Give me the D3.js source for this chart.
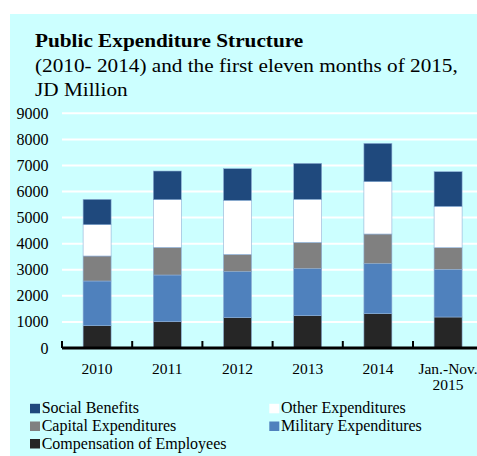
<!DOCTYPE html>
<html>
<head>
<meta charset="utf-8">
<script src="https://cdn.jsdelivr.net/npm/d3@7"></script>
<style>
  html, body { margin: 0; padding: 0; background: #ffffff; }
  svg { display: block; }
  text { font-family: "Liberation Serif", "Times New Roman", serif; fill: #000; }
</style>
</head>
<body>
<svg id="chart" width="477" height="456"></svg>
<script>
// Public expenditure by category, JD million
const categories = ["2010", "2011", "2012", "2013", "2014", "Jan.-Nov.\n2015"];
const compensation = [855, 1008, 1163, 1240, 1316, 1189];
const military     = [1714, 1791, 1764, 1802, 1917, 1827];
const capital      = [959, 1061, 664, 1010, 1138, 831];
const other        = [1200, 1827, 2071, 1649, 2006, 1585];
const social       = [973, 1100, 1214, 1380, 1470, 1329];
const yTicks = [0, 1000, 2000, 3000, 4000, 5000, 6000, 7000, 8000, 9000];

// stacking order bottom to top
const seriesDefs = [
  { key: "comp",    name: "Compensation of Employees", values: compensation, color: "#262626" },
  { key: "mil",     name: "Military Expenditures",     values: military,     color: "#4f81bd" },
  { key: "cap",     name: "Capital Expenditures",      values: capital,      color: "#808080" },
  { key: "other",   name: "Other Expenditures",        values: other,        color: "#ffffff" },
  { key: "social",  name: "Social Benefits",           values: social,       color: "#1f497d" }
];

const rows = categories.map((c, i) => {
  const r = { cat: c };
  seriesDefs.forEach(s => { r[s.key] = s.values[i]; });
  return r;
});

const svg = d3.select("#chart");

// panel background
svg.append("rect")
  .attr("x", 10).attr("y", 14).attr("width", 467).attr("height", 442)
  .attr("fill", "#ccffff");

// titles (slightly widened lettering)
const titleG = svg.append("g").attr("transform", "translate(35,0) scale(1.09,1)");
titleG.append("text").attr("x", 0).attr("y", 47.3)
  .style("font-size", "19.5px").style("font-weight", "bold")
  .text("Public Expenditure Structure");
titleG.append("text").attr("x", 0).attr("y", 72)
  .style("font-size", "19.5px")
  .text("(2010- 2014) and the first eleven months of 2015,");
titleG.append("text").attr("x", 0).attr("y", 96)
  .style("font-size", "19.5px")
  .text("JD Million");

const plot = { left: 62, right: 483.2, top: 113.3, bottom: 348 };

const xOuter = d3.scaleBand().domain(categories).range([plot.left, plot.right]);

const y = d3.scaleLinear().domain([0, 9000]).range([plot.bottom, plot.top]);

// gridlines
svg.append("g")
  .selectAll("line")
  .data(yTicks.filter(t => t > 0))
  .join("line")
  .attr("x1", plot.left).attr("x2", plot.right)
  .attr("y1", d => y(d)).attr("y2", d => y(d))
  .attr("stroke", "#ffffff").attr("stroke-width", 2);

// y tick labels
svg.append("g")
  .selectAll("text")
  .data(yTicks)
  .join("text")
  .attr("x", 48.5).attr("y", d => y(d) + 5.5)
  .attr("text-anchor", "end")
  .style("font-size", "16px")
  .text(d => d);

// stacked bars
const stack = d3.stack().keys(seriesDefs.map(s => s.key));
const layers = stack(rows);

const bw = 28;
svg.append("g")
  .selectAll("g")
  .data(layers)
  .join("g")
  .attr("fill", (d, i) => seriesDefs[i].color)
  .selectAll("rect")
  .data(d => d)
  .join("rect")
  .attr("x", d => xOuter(d.data.cat) + xOuter.bandwidth() / 2 - bw / 2)
  .attr("width", bw)
  .attr("y", d => y(d[1]))
  .attr("height", d => y(d[0]) - y(d[1]))
  .attr("stroke", "#8fb0d6")
  .attr("stroke-width", 0.6);

// category axis
svg.append("line")
  .attr("x1", plot.left).attr("x2", plot.right)
  .attr("y1", plot.bottom).attr("y2", plot.bottom)
  .attr("stroke", "#000").attr("stroke-width", 3);

svg.append("g")
  .selectAll("line")
  .data(categories)
  .join("line")
  .attr("x1", d => xOuter(d)).attr("x2", d => xOuter(d))
  .attr("y1", plot.bottom - 7).attr("y2", plot.bottom)
  .attr("stroke", "#000").attr("stroke-width", 2);

svg.append("g")
  .selectAll("text")
  .data(categories)
  .join("text")
  .attr("text-anchor", "middle")
  .style("font-size", "15.5px")
  .each(function(d) {
    const cx = xOuter(d) + xOuter.bandwidth() / 2;
    const lines = d.split("\n");
    d3.select(this).selectAll("tspan")
      .data(lines)
      .join("tspan")
      .attr("x", cx)
      .attr("y", (l, i) => 373.5 + i * 16.5)
      .text(l => l);
  });

// legend
const legendItems = [
  { s: seriesDefs[4], x: 30,    y: 413.3 },
  { s: seriesDefs[3], x: 269.3, y: 413.3 },
  { s: seriesDefs[2], x: 30,    y: 431 },
  { s: seriesDefs[1], x: 269.3, y: 431 },
  { s: seriesDefs[0], x: 30,    y: 448.5 }
];
const lg = svg.append("g")
  .selectAll("g")
  .data(legendItems)
  .join("g")
  .attr("transform", d => `translate(${d.x},${d.y})`);
lg.append("rect")
  .attr("x", 0).attr("y", -9.5).attr("width", 10).attr("height", 9.5)
  .attr("fill", d => d.s.color);
lg.append("text")
  .attr("x", 11.7).attr("y", 0)
  .style("font-size", "16px")
  .text(d => d.s.name);
</script>
</body>
</html>
